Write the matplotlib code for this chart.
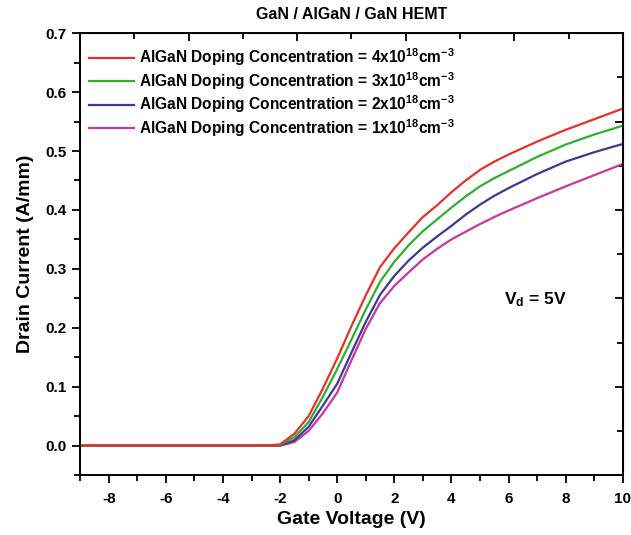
import numpy as np
import matplotlib
matplotlib.use("Agg")
import matplotlib.pyplot as plt
from matplotlib.ticker import MultipleLocator

plt.rcParams['font.family'] = ['Liberation Sans', 'DejaVu Sans']
plt.rcParams['font.weight'] = 'bold'
plt.rcParams['mathtext.fontset'] = 'custom'
plt.rcParams['mathtext.rm'] = 'Liberation Sans:bold'
plt.rcParams['mathtext.bf'] = 'Liberation Sans:bold'
plt.rcParams['mathtext.default'] = 'rm'
plt.rcParams['axes.unicode_minus'] = False

# gate voltage (V)
vg = [-9, -8, -7, -6, -5, -4, -3, -2.5, -2, -1.5, -1, -0.5,
      0, 0.5, 1, 1.5, 2, 2.5, 3, 3.5, 4, 4.5, 5, 5.5, 6, 7, 8, 9, 10]

# drain current (A/mm) for each doping level
id_4e18 = [0, 0, 0, 0, 0, 0, 0, 0, 0.002, 0.02, 0.05, 0.097,
           0.148, 0.203, 0.255, 0.303, 0.335, 0.362, 0.388, 0.408, 0.43, 0.45, 0.468, 0.482,
           0.494, 0.516, 0.536, 0.554, 0.572]
id_3e18 = [0, 0, 0, 0, 0, 0, 0, 0, 0.001, 0.014, 0.04, 0.083,
           0.13, 0.18, 0.231, 0.278, 0.312, 0.34, 0.364, 0.384, 0.404, 0.423, 0.44, 0.454,
           0.466, 0.49, 0.511, 0.528, 0.543]
id_2e18 = [0, 0, 0, 0, 0, 0, 0, 0, 0, 0.009, 0.032, 0.068,
           0.105, 0.158, 0.21, 0.256, 0.288, 0.314, 0.336, 0.355, 0.373, 0.392, 0.409, 0.424,
           0.437, 0.461, 0.482, 0.498, 0.512]
id_1e18 = [0, 0, 0, 0, 0, 0, 0, 0, 0, 0.006, 0.025, 0.055,
           0.09, 0.145, 0.198, 0.242, 0.271, 0.294, 0.316, 0.334, 0.35, 0.363, 0.376, 0.388,
           0.399, 0.42, 0.44, 0.459, 0.478]

labels = [r'AlGaN Doping Concentration = 4x10$^{18}$cm$^{-3}$',
          r'AlGaN Doping Concentration = 3x10$^{18}$cm$^{-3}$',
          r'AlGaN Doping Concentration = 2x10$^{18}$cm$^{-3}$',
          r'AlGaN Doping Concentration = 1x10$^{18}$cm$^{-3}$']
colors = ['#e8302a', '#2eb02e', '#3a3a96', '#c8369e']

fig = plt.figure(figsize=(6.31, 5.35), dpi=100)
ax = fig.add_axes([0.127, 0.112, 0.86, 0.826])

series = [id_4e18, id_3e18, id_2e18, id_1e18]
# draw lowest first so red ends on top
for ys, c, lab in reversed(list(zip(series, colors, labels))):
    ax.plot(vg, ys, color=c, lw=1.6, label=lab)

ax.set_xlim(-9, 10)
ax.set_ylim(-0.05, 0.7)
ax.xaxis.set_major_locator(MultipleLocator(2))
ax.xaxis.set_minor_locator(MultipleLocator(1))
ax.yaxis.set_major_locator(MultipleLocator(0.1))
ax.yaxis.set_minor_locator(MultipleLocator(0.05))
ax.yaxis.set_major_formatter(matplotlib.ticker.FormatStrFormatter('%.1f'))
ax.tick_params(which='both', direction='out', width=1.3, labelsize=11, pad=4)
ax.tick_params(which='major', length=6)
ax.tick_params(which='minor', length=4)
ax.tick_params(axis='x', pad=6)
for lab in ax.get_xticklabels() + ax.get_yticklabels():
    lab.set_fontweight('bold')
for s in ax.spines.values():
    s.set_linewidth(1.4)

# Origin style top/right axes with their own 10 divisions
top = ax.secondary_xaxis('top', functions=(lambda x: (x + 9) / 19 * 10, lambda t: t * 1.9 - 9))
top.xaxis.set_major_locator(MultipleLocator(2))
top.xaxis.set_minor_locator(MultipleLocator(1))
top.tick_params(which='both', direction='in', width=1.3, labeltop=False)
top.tick_params(which='major', length=6)
top.tick_params(which='minor', length=4)
right = ax.secondary_yaxis('right', functions=(lambda y: (y + 0.05) / 0.75 * 10, lambda t: t * 0.075 - 0.05))
right.yaxis.set_major_locator(MultipleLocator(2))
right.yaxis.set_minor_locator(MultipleLocator(1))
right.tick_params(which='both', direction='in', width=1.3, labelright=False)
right.tick_params(which='major', length=6)
right.tick_params(which='minor', length=4)

ax.set_xlabel('Gate Voltage (V)', fontsize=14, fontweight='bold', labelpad=4)
ax.set_ylabel('Drain Current (A/mm)', fontsize=14, fontweight='bold', labelpad=8)
ax.set_title('GaN / AlGaN / GaN HEMT', fontsize=11.5, fontweight='bold', pad=10)

ax.text(6.95, 0.248, r'V$_{d}$ = 5V', fontsize=12.5, fontweight='bold', ha='center', va='center')

h, l = ax.get_legend_handles_labels()
ax.legend(h[::-1], l[::-1], loc='upper left', bbox_to_anchor=(-0.004, 0.995), frameon=False,
          handlelength=2.9, handletextpad=0.3, labelspacing=0.12,
          borderaxespad=0.3, prop={'weight': 'bold', 'size': 11.2})

fig.savefig('out.png', dpi=100)
